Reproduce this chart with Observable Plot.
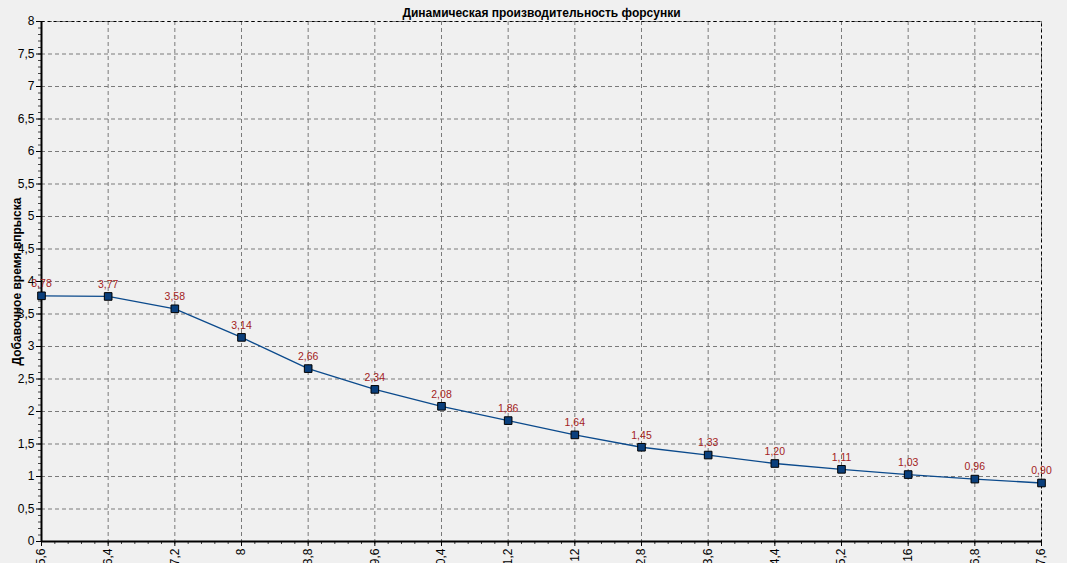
<!DOCTYPE html>
<html>
<head>
<meta charset="utf-8">
<script src="https://cdn.jsdelivr.net/npm/d3@7"></script>
<script src="https://cdn.jsdelivr.net/npm/@observablehq/plot@0.6"></script>
<style>
  html, body { margin: 0; padding: 0; background: #f0f0f0; overflow: hidden; }
  #chart svg { background: #f0f0f0; display: block; }
</style>
</head>
<body>
<div id="chart"></div>
<script>
const title = "Динамическая производительность форсунки";
const yTitle = "Добавочное время впрыска";
const xValues = [5.6, 6.4, 7.2, 8, 8.8, 9.6, 10.4, 11.2, 12, 12.8, 13.6, 14.4, 15.2, 16, 16.8, 17.6];
const yValues = [3.78, 3.77, 3.58, 3.14, 2.66, 2.34, 2.08, 1.86, 1.64, 1.45, 1.33, 1.20, 1.11, 1.03, 0.96, 0.90];
const xTickLabels = ["5,6", "6,4", "7,2", "8", "8,8", "9,6", "10,4", "11,2", "12", "12,8", "13,6", "14,4", "15,2", "16", "16,8", "17,6"];
const yTicks = [0, 0.5, 1, 1.5, 2, 2.5, 3, 3.5, 4, 4.5, 5, 5.5, 6, 6.5, 7, 7.5, 8];
const yTickLabels = ["0", "0,5", "1", "1,5", "2", "2,5", "3", "3,5", "4", "4,5", "5", "5,5", "6", "6,5", "7", "7,5", "8"];

const data = xValues.map((x, i) => ({x, y: yValues[i], label: yValues[i].toFixed(2).replace(".", ",")}));
const xLabelMap = new Map(xValues.map((v, i) => [v, xTickLabels[i]]));
const yLabelMap = new Map(yTicks.map((v, i) => [v, yTickLabels[i]]));
const minorX = d3.range(0, 76).map(i => 5.6 + i * 0.16).filter(v => v <= 17.61);
const minorY = d3.range(0, 81).map(i => i * 0.1);

const font = "Liberation Sans, Arial, sans-serif";

const chart = Plot.plot({
  width: 1067,
  height: 563,
  marginLeft: 41,
  marginRight: 26,
  marginTop: 21,
  marginBottom: 22,
  style: {fontFamily: font, fontSize: "12px", background: "#f0f0f0", color: "black"},
  x: {type: "linear", domain: [5.6, 17.6]},
  y: {type: "linear", domain: [0, 8]},
  marks: [
    Plot.gridX(xValues, {stroke: "#7a7a7a", strokeOpacity: 1, strokeDasharray: "4,3"}),
    Plot.gridY(yTicks, {stroke: "#7a7a7a", strokeOpacity: 1, strokeDasharray: "4,3"}),
    Plot.frame({stroke: "black", strokeDasharray: "3,3"}),
    Plot.axisY(minorY, {tickSize: 3, text: null, label: null, stroke: "#444"}),
    Plot.axisX(minorX, {tickSize: 3, text: null, label: null, stroke: "#444"}),
    Plot.axisY(yTicks, {tickSize: 5, tickPadding: 2, tickFormat: d => yLabelMap.get(d), label: null, fontSize: 12}),
    Plot.axisX(xValues, {tickSize: 5, tickPadding: 2, tickRotate: -90, tickFormat: d => xLabelMap.get(d), label: null, fontSize: 12}),
    Plot.ruleY([0], {stroke: "black", strokeWidth: 2}),
    Plot.ruleX([5.6], {stroke: "black", strokeWidth: 2}),
    Plot.line(data, {x: "x", y: "y", stroke: "#0b4a8c", strokeWidth: 1.3}),
    Plot.dot(data, {x: "x", y: "y", symbol: "square", r: 4.3, fill: "#0a3f7c", stroke: "black", strokeWidth: 1}),
    Plot.text(data, {x: "x", y: "y", text: "label", dy: -12, fill: "#a32222", fontSize: 10.5}),
    Plot.text([title], {frameAnchor: "top", dy: -13, fontWeight: "bold", fontSize: 12, fill: "black"}),
    Plot.text([yTitle], {frameAnchor: "left", dx: -24, rotate: -90, textAnchor: "middle", fontWeight: "bold", fontSize: 12, fill: "black"})
  ]
});
document.getElementById("chart").append(chart);
</script>
</body>
</html>
